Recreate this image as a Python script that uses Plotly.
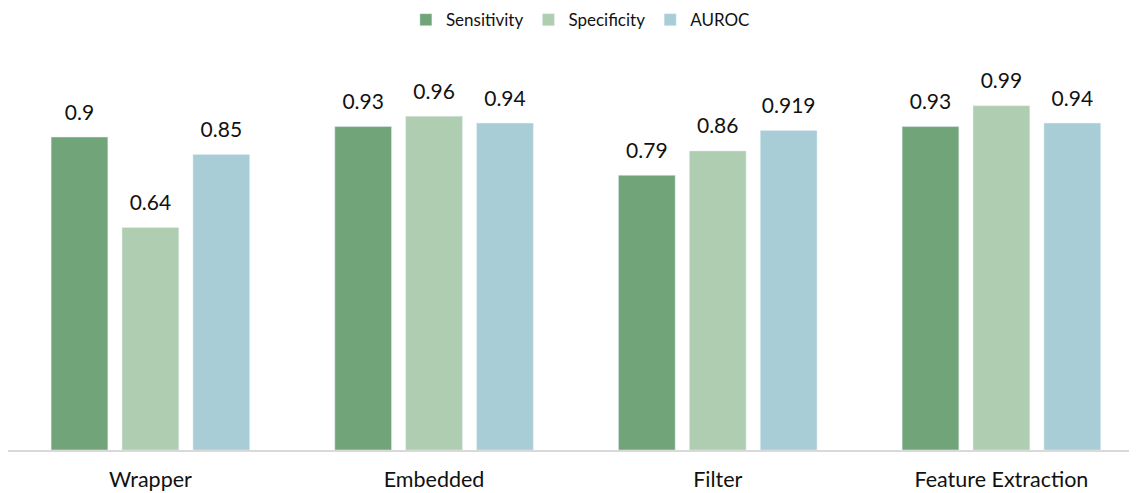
import plotly.graph_objects as go

categories = ["Wrapper", "Embedded", "Filter", "Feature Extraction"]
sensitivity = [0.9, 0.93, 0.79, 0.93]
specificity = [0.64, 0.96, 0.86, 0.99]
auroc = [0.85, 0.94, 0.919, 0.94]
labels_sens = ["0.9", "0.93", "0.79", "0.93"]
labels_spec = ["0.64", "0.96", "0.86", "0.99"]
labels_auroc = ["0.85", "0.94", "0.919", "0.94"]

series = [
    ("Sensitivity", sensitivity, labels_sens, "#71A478"),
    ("Specificity", specificity, labels_spec, "#AFCDB0"),
    ("AUROC", auroc, labels_auroc, "#A9CDD6"),
]

FONT = "Lato, 'Open Sans', sans-serif"
fig = go.Figure()
for i, (name, vals, labs, col) in enumerate(series):
    fig.add_trace(go.Bar(
        x=categories, y=vals, name=name, marker_color=col,
        offsetgroup=str(i), alignmentgroup="a",
    ))
for i, (name, vals, labs, col) in enumerate(series):
    fig.add_trace(go.Scatter(
        x=categories, y=vals, mode="markers+text", text=labs,
        marker=dict(size=18, opacity=0),
        textposition="top center", offsetgroup=str(i), alignmentgroup="a",
        textfont=dict(size=21, color="#111111", family=FONT),
        showlegend=False, hoverinfo="skip", cliponaxis=False,
    ))

fig.update_layout(
    width=1129, height=485,
    margin=dict(l=0, r=0, t=32, b=43, autoexpand=False),
    plot_bgcolor="white", paper_bgcolor="white",
    barmode="group", scattermode="group",
    bargap=0.25, bargroupgap=0.2,
    font=dict(family=FONT, color="#111111"),
    legend=dict(orientation="h", x=0.507, xanchor="center", y=0.975, yanchor="middle",
                yref="container",
                font=dict(size=17, family=FONT), itemwidth=30,
                traceorder="normal"),
    showlegend=True,
)
fig.update_xaxes(showline=True, linecolor="#D9D9D9", linewidth=1.5, range=[-0.502, 3.478],
                 tickfont=dict(size=21.5, family=FONT), ticks="", showgrid=False,
                 ticklabelstandoff=9, automargin=False)
fig.update_yaxes(range=[0, 1.179], visible=False, showgrid=False, automargin=False)

fig.write_html("out.html")
